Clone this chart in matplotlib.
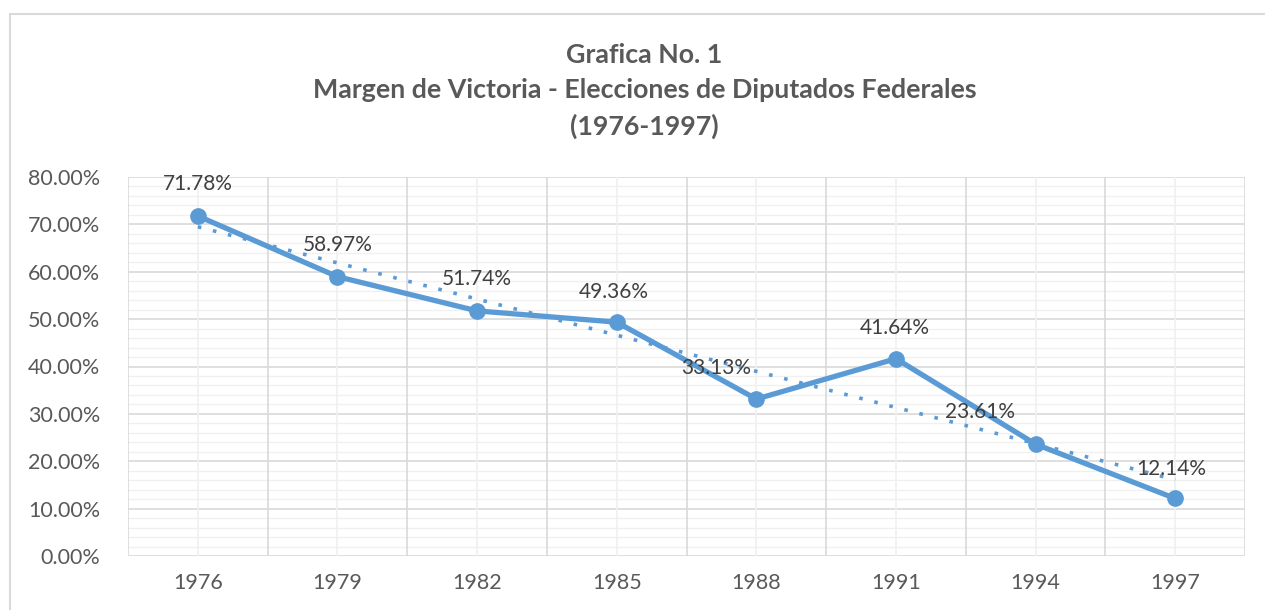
import matplotlib.pyplot as plt
import matplotlib.patches as mpatches
import numpy as np

# data
years = ["1976", "1979", "1982", "1985", "1988", "1991", "1994", "1997"]
margins = [71.78, 58.97, 51.74, 49.36, 33.13, 41.64, 23.61, 12.14]
yticks = [0, 10, 20, 30, 40, 50, 60, 70, 80]

# label nudges (points), some labels were dragged in the original
label_dx = [0, 0, 0, -2, -29, -1, -40, -3]
label_dy = [23, 22.5, 23, 22, 22.5, 22, 23, 21.5]

blue = "#5b9bd5"
plt.rcParams["font.family"] = ["Lato", "DejaVu Sans"]

fig = plt.figure(figsize=(12.65, 6.10), dpi=100)
ax = fig.add_axes([128 / 1265, 1 - 556 / 610, (1245 - 128) / 1265, (556 - 177) / 610])

x = np.arange(len(years))

# gridlines, Excel style
for v in np.arange(0, 81, 2):
    if v % 10 == 0:
        ax.axhline(v, color="#d9d9d9", lw=1.2, zorder=0)
    else:
        ax.axhline(v, color="#f0f0f0", lw=1.0, zorder=0)
for i in range(len(years) + 1):
    ax.axvline(i - 0.5, color="#d9d9d9", lw=1.2, zorder=0)
for i in x:
    ax.axvline(i, color="#f0f0f0", lw=1.2, zorder=0)

# linear trend
coef = np.polyfit(x, margins, 1)
ax.plot(x, np.polyval(coef, x), color=blue, lw=2.6, linestyle=(0, (1, 3.3)),
        dash_capstyle="butt", zorder=2)

ax.plot(x, margins, color=blue, lw=3.8, marker="o", markersize=11,
        solid_capstyle="round", zorder=3)

for xi, v, dx, dy in zip(x, margins, label_dx, label_dy):
    ax.annotate(f"{v:.2f}%", (xi, v), xytext=(dx, dy), textcoords="offset points",
                ha="center", va="center", fontsize=15, color="#404040", zorder=4)

ax.set_xlim(-0.5, len(years) - 0.5)
ax.set_ylim(0, 80)
ax.set_yticks(yticks)
ax.set_yticklabels([f"{v:.2f}%" for v in yticks])
ax.set_xticks(x)
ax.set_xticklabels(years)
ax.tick_params(axis="both", length=0, labelsize=15.5, colors="#595959")
ax.tick_params(axis="y", pad=20)
ax.tick_params(axis="x", pad=12)
for s in ax.spines.values():
    s.set_visible(False)

cx = 644.5 / 1265
fig.text(cx, 1 - 55 / 610, "Grafica No. 1", ha="center", va="center",
         fontsize=19.3, fontweight="bold", color="#595959")
fig.text(cx, 1 - 90 / 610, "Margen de Victoria - Elecciones de Diputados Federales",
         ha="center", va="center", fontsize=19.3, fontweight="bold", color="#595959")
fig.text(cx, 1 - 126 / 610, "(1976-1997)", ha="center", va="center",
         fontsize=19.3, fontweight="bold", color="#595959")

# outer chart border
fig.patches.append(mpatches.Rectangle((10 / 1265, -0.05), 1.1, 1 - 14 / 610 + 0.05,
                                      transform=fig.transFigure, fill=False,
                                      edgecolor="#d9d9d9", lw=1.5))

fig.savefig("out.png", dpi=100)
